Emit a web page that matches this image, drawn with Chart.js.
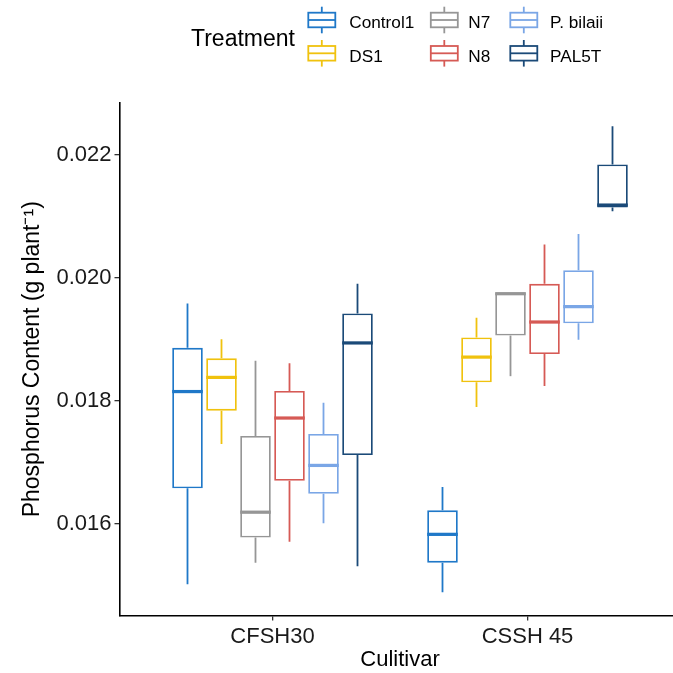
<!DOCTYPE html>
<html><head><meta charset="utf-8">
<script src="https://cdn.jsdelivr.net/npm/chart.js@4.4.0/dist/chart.umd.min.js"></script>
<style>
html,body{margin:0;padding:0;width:673px;height:673px;overflow:hidden;background:#fff;}
#wrap{position:absolute;left:0;top:0;width:690px;height:673px;}
#legend{position:absolute;left:0;top:0;}
</style></head><body>
<div id="wrap"><canvas id="c" width="690" height="673"></canvas></div>
<svg id="legend" width="673" height="80" xmlns="http://www.w3.org/2000/svg"></svg>
<script>
// ---- data ----
const cultivars = ['CFSH30', 'CSSH 45'];
const cultivarPos = [1, 2];
const treatments = ['Control1', 'DS1', 'N7', 'N8', 'P. bilaii', 'PAL5T'];
const colors = ['#1F78C8', '#F0C20E', '#969696', '#D65A55', '#7AA6E6', '#1B4A78'];
// each row = one treatment, values for [CFSH30, CSSH 45]
const whiskerLow  = [[0.01502, 0.01489], [0.01730, 0.01790], [0.01537, 0.01840], [0.01571, 0.01824], [0.01601, 0.01899], [0.01531, 0.02108]];
const q1          = [[0.01658, 0.01537], [0.01784, 0.01830], [0.01578, 0.01906], [0.01670, 0.01876], [0.01649, 0.01926], [0.01712, 0.02114]];
const median      = [[0.01815, 0.01583], [0.01838, 0.01871], [0.01619, 0.01974], [0.01772, 0.01928], [0.01695, 0.01953], [0.01894, 0.02118]];
const q3          = [[0.01886, 0.01622], [0.01869, 0.01903], [0.01743, 0.01976], [0.01816, 0.01990], [0.01746, 0.02012], [0.01942, 0.02184]];
const whiskerHigh = [[0.01958, 0.01660], [0.01900, 0.01935], [0.01865, 0.01976], [0.01861, 0.02054], [0.01797, 0.02071], [0.01990, 0.02246]];
const yTicks = [0.016, 0.018, 0.020, 0.022];

const FONT = "'Liberation Sans', Arial, Helvetica, sans-serif";
const LW = 1.8;
const dataMin = Math.min(...whiskerLow.flat());
const dataMax = Math.max(...whiskerHigh.flat());
const expand = 0.05 * (dataMax - dataMin);

const boxWhisker = {
  id: 'boxWhisker',
  afterDatasetsDraw(chart) {
    const ctx = chart.ctx, y = chart.scales.y;
    chart.data.datasets.forEach((ds, i) => {
      const meta = chart.getDatasetMeta(i);
      meta.data.forEach((bar, j) => {
        const cx = bar.x, w = bar.width;
        ctx.save();
        ctx.strokeStyle = colors[i];
        ctx.lineWidth = LW;
        ctx.beginPath();
        ctx.moveTo(cx, y.getPixelForValue(q3[i][j])); ctx.lineTo(cx, y.getPixelForValue(whiskerHigh[i][j]));
        ctx.moveTo(cx, y.getPixelForValue(q1[i][j])); ctx.lineTo(cx, y.getPixelForValue(whiskerLow[i][j]));
        ctx.stroke();
        ctx.lineWidth = LW * 1.8;
        const my = y.getPixelForValue(median[i][j]);
        ctx.beginPath(); ctx.moveTo(cx - w / 2, my); ctx.lineTo(cx + w / 2, my); ctx.stroke();
        ctx.restore();
      });
    });
  }
};

new Chart(document.getElementById('c'), {
  type: 'bar',
  data: {
    datasets: treatments.map((t, i) => ({
      label: t,
      data: cultivarPos.map((x, j) => ({ x: x, y: [q1[i][j], q3[i][j]] })),
      backgroundColor: '#ffffff',
      borderColor: colors[i],
      borderWidth: LW,
      borderSkipped: false,
      categoryPercentage: 0.8,
      barPercentage: 0.9
    }))
  },
  options: {
    responsive: false, animation: false, devicePixelRatio: 1,
    layout: { padding: { top: 103, right: 9.5, left: 0, bottom: 0 } },
    plugins: { legend: { display: false }, tooltip: { enabled: false } },
    scales: {
      x: {
        type: 'linear', min: 0.4, max: 2.6, offset: false,
        afterBuildTicks: s => { s.ticks = cultivarPos.map(v => ({ value: v })); },
        afterFit: s => { s.height = 57.5; },
        ticks: { autoSkip: false, maxRotation: 0, padding: 3, color: '#1a1a1a',
          font: { family: FONT, size: 22 }, callback: (v, idx) => cultivars[idx] },
        grid: { display: true, drawOnChartArea: false, drawTicks: true, tickLength: 5, lineWidth: 1.3, color: '#333', offset: false },
        border: { display: true, color: '#000', width: 1.6 },
        title: { display: true, text: 'Culitivar', color: '#000', font: { family: FONT, size: 22 }, padding: { top: 0, bottom: 0 } }
      },
      y: {
        type: 'linear', min: dataMin - expand, max: dataMax + expand,
        afterBuildTicks: s => { s.ticks = yTicks.map(v => ({ value: v })); },
        afterFit: s => { s.width = 119.5; },
        ticks: { padding: 3, color: '#1a1a1a', font: { family: FONT, size: 22 }, callback: v => Number(v).toFixed(3) },
        grid: { display: true, drawOnChartArea: false, drawTicks: true, tickLength: 5, lineWidth: 1.3, color: '#333' },
        border: { display: true, color: '#000', width: 1.6 },
        title: { display: true, text: 'Phosphorus Content (g plant\u207B\u00B9)', color: '#000', font: { family: FONT, size: 23 }, padding: { top: 19, bottom: 0 } }
      }
    }
  },
  plugins: [boxWhisker]
});

// ---- legend (SVG, real text) ----
const svg = document.getElementById('legend');
const NS = 'http://www.w3.org/2000/svg';
function el(tag, attrs, text) {
  const e = document.createElementNS(NS, tag);
  for (const k in attrs) e.setAttribute(k, attrs[k]);
  if (text) e.textContent = text;
  svg.appendChild(e); return e;
}
el('text', { x: 191, y: 46.4, 'font-family': FONT, 'font-size': 23, fill: '#000' }, 'Treatment');
const colIconX = [308.3, 430.8, 510.3];
const colTextX = [349.3, 468.3, 550];
treatments.forEach((t, i) => {
  const col = Math.floor(i / 2), row = i % 2;
  const dy = row * 33.3;
  const x0 = colIconX[col], w = 27, cx = x0 + w / 2;
  el('line', { x1: cx, x2: cx, y1: 6.7 + dy, y2: 33.3 + dy, stroke: colors[i], 'stroke-width': LW });
  el('rect', { x: x0, y: 12.7 + dy, width: w, height: 14.6, fill: '#fff', stroke: colors[i], 'stroke-width': LW });
  el('line', { x1: x0, x2: x0 + w, y1: 20 + dy, y2: 20 + dy, stroke: colors[i], 'stroke-width': LW });
  el('text', { x: colTextX[col], y: 28.4 + dy, 'font-family': FONT, 'font-size': 17.2, fill: '#000' }, t);
});
</script>
</body></html>
